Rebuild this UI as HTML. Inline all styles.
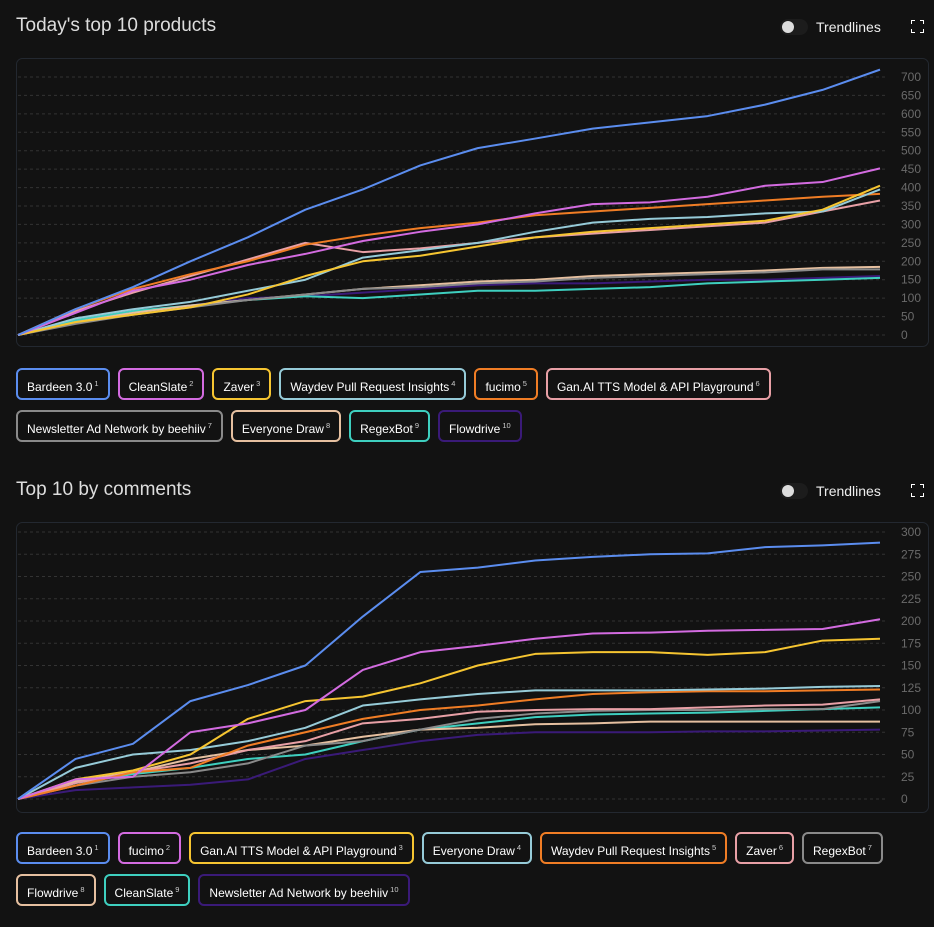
<!DOCTYPE html>
<html><head><meta charset="utf-8"><style>
body{margin:0;background:#121212;width:934px;height:927px;overflow:hidden;font-family:"Liberation Sans",sans-serif;color:#eee;position:relative}
.title{position:absolute;left:16px;font-size:19px;color:#ddd}
.tog{position:absolute;left:780px;width:28px;height:16px;border-radius:8px;background:#1c1c1c}
.tog::after{content:"";position:absolute;left:2px;top:2px;width:12px;height:12px;border-radius:6px;background:#ddd}
.tl{position:absolute;left:816px;font-size:14px;color:#eee}
.exp{position:absolute;left:911px;width:13px;height:13px}
.legend{position:absolute;left:16px;width:900px;display:flex;flex-wrap:wrap;gap:10px 8px}
.pill{border:2px solid;border-radius:6px;padding:0 9px;height:28px;line-height:28px;font-size:12px;color:#fff;white-space:nowrap}
.pill sup{font-size:7.5px;margin-left:2px;color:#ccc}
svg{position:absolute;left:0;top:0}
</style></head><body>
<div class="title" style="top:15px">Today's top 10 products</div>
<div class="tog" style="top:19px"></div>
<div class="tl" style="top:19px">Trendlines</div>
<svg class="exp" style="top:20px;left:911px" width="13" height="13"><path d="M0 4V0H4M9 0H13V4M13 9V13H9M4 13H0V9" fill="none" stroke="#fff" stroke-width="2"/></svg>
<div class="title" style="top:479px">Top 10 by comments</div>
<div class="tog" style="top:483px"></div>
<div class="tl" style="top:483px">Trendlines</div>
<svg class="exp" style="top:484px;left:911px" width="13" height="13"><path d="M0 4V0H4M9 0H13V4M13 9V13H9M4 13H0V9" fill="none" stroke="#fff" stroke-width="2"/></svg>
<svg id="c" width="934" height="927"></svg>
<div class="legend" id="leg1" style="top:368px"></div>
<div class="legend" id="leg2" style="top:832px"></div>
<script>
const colors=["#5b8def","#d36be0","#f6c531","#96cbd8","#f07d25","#e8a0a6","#8a8a8a","#e6c0a0","#3ecfbf","#3a1a78"];
const names1=["Bardeen 3.0","CleanSlate","Zaver","Waydev Pull Request Insights","fucimo","Gan.AI TTS Model & API Playground","Newsletter Ad Network by beehiiv","Everyone Draw","RegexBot","Flowdrive"];
const names2=["Bardeen 3.0","fucimo","Gan.AI TTS Model & API Playground","Everyone Draw","Waydev Pull Request Insights","Zaver","RegexBot","Flowdrive","CleanSlate","Newsletter Ad Network by beehiiv"];
const ticks1=[0,50,100,150,200,250,300,350,400,450,500,550,600,650,700];
const ticks2=[0,25,50,75,100,125,150,175,200,225,250,275,300];
const s1_0=[0,70,130,200,265,340,395,460,507,533,560,577,594,625,665,720];
const s1_1=[0,60,120,150,190,220,255,280,300,330,355,360,375,405,415,452];
const s1_2=[0,35,55,75,110,160,200,215,240,265,280,290,300,310,340,405];
const s1_3=[0,45,70,90,120,150,210,230,250,280,305,315,320,330,335,395];
const s1_4=[0,70,125,165,200,245,270,290,305,325,335,345,355,365,375,383];
const s1_5=[0,65,115,160,205,250,225,235,250,265,275,285,295,305,335,365];
const s1_6=[0,30,55,75,95,110,125,130,140,145,155,160,165,170,178,178];
const s1_7=[0,35,60,80,95,110,125,135,145,150,160,165,170,175,182,185];
const s1_8=[0,40,65,80,95,105,100,110,120,120,125,130,140,145,150,155];
const s1_9=[0,40,65,80,100,105,115,125,135,140,140,145,150,150,155,160];
const s2_0=[0,45,62,110,128,150,205,255,260,268,272,275,276,283,285,288];
const s2_1=[0,22,25,75,85,100,145,165,172,180,186,187,189,190,191,202];
const s2_2=[0,22,32,50,90,110,115,130,150,163,165,165,162,165,178,180];
const s2_3=[0,35,50,55,65,80,105,112,118,122,122,122,123,124,126,127];
const s2_4=[0,15,30,35,60,75,90,100,105,112,118,120,121,121,122,123];
const s2_5=[0,18,30,40,55,65,85,90,98,100,101,101,103,105,106,112];
const s2_6=[0,15,25,30,40,60,65,78,90,96,99,100,100,101,101,110];
const s2_7=[0,20,30,45,55,60,70,78,80,84,85,87,87,87,87,87];
const s2_8=[0,18,28,35,45,50,65,78,85,92,95,96,97,99,101,103];
const s2_9=[0,10,13,16,22,45,55,65,72,75,75,75,76,76,77,78];
const series1=[s1_0,s1_1,s1_2,s1_3,s1_4,s1_5,s1_6,s1_7,s1_8,s1_9];
const series2=[s2_0,s2_1,s2_2,s2_3,s2_4,s2_5,s2_6,s2_7,s2_8,s2_9];
const NS="http://www.w3.org/2000/svg";
const svg=document.getElementById('c');
function el(t,a){const e=document.createElementNS(NS,t);for(const k in a)e.setAttribute(k,a[k]);svg.appendChild(e);return e;}
function chart(box,y0,y1,vmax,ticks,series,idx){
  const b=el('rect',{x:16.5,y:box[0]+.5,width:912,height:box[1]-box[0],rx:6,fill:'#121212',stroke:'#232830'});
  
  
  const X=i=>18+i*(880-18)/15, Y=v=>y0-(y0-y1)*v/vmax;
  ticks.forEach(t=>{
    const g=el('line',{x1:18,x2:888,y1:Y(t),y2:Y(t),stroke:'#333',"stroke-dasharray":'3 3'});
    
    
    const tx=el('text',{x:901,y:Y(t)+4,fill:'#6a6a6a',"font-size":12,"font-family":'Liberation Sans'});
    tx.textContent=t;
    
    
  });
  series.slice().reverse().forEach((s,ri)=>{
    const i=series.length-1-ri;
    const p=el('polyline',{points:s.map((v,j)=>X(j)+','+Y(v)).join(' '),fill:'none',stroke:colors[i],"stroke-width":2,"stroke-linejoin":'round'});
    
    
  });
}
chart([58,346],335,77,700,ticks1,series1,1);
chart([522,812],799,532,300,ticks2,series2,2);
function legend(id,names){
  const L=document.getElementById(id);
  names.forEach((n,i)=>{
    const d=document.createElement('div');
    d.className='pill';d.style.borderColor=colors[i];
    d.innerHTML=n.replace(/&/g,'&amp;')+'<sup>'+(i+1)+'</sup>';
    
    
    L.appendChild(d);
  });
}
legend('leg1',names1);legend('leg2',names2);
</script>
</body></html>
